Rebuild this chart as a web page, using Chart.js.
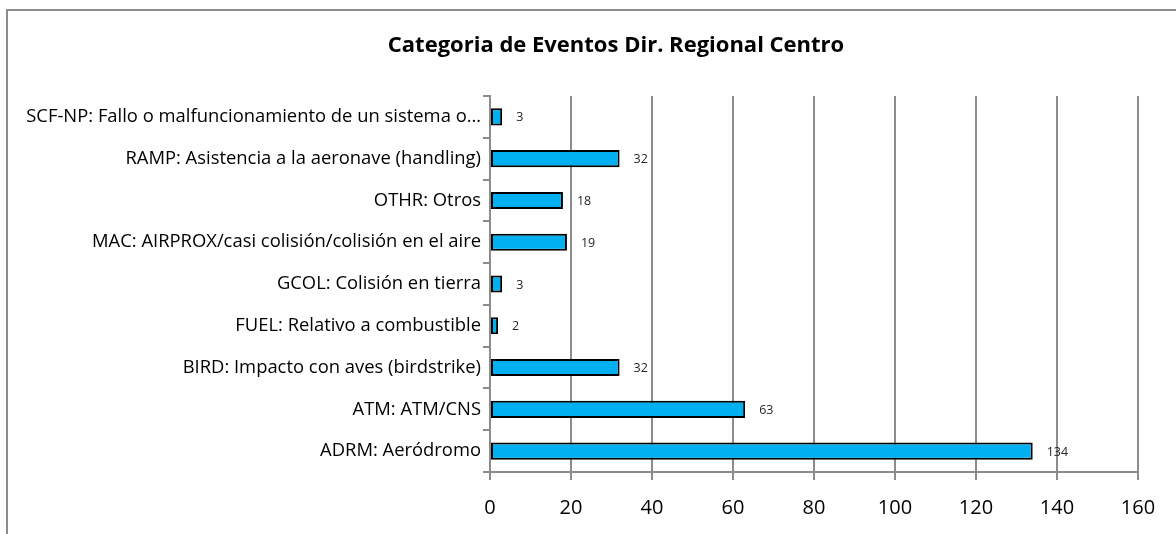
<!DOCTYPE html>
<html>
<head>
<meta charset="utf-8">
<script src="https://cdn.jsdelivr.net/npm/chart.js@4.4.1/dist/chart.umd.min.js"></script>
<style>
  html, body { margin: 0; padding: 0; background: #fff; overflow: hidden; width: 1176px; height: 534px; }
  #frame { position: absolute; left: 6px; top: 9px; width: 1216px; height: 523px;
           border-left: 2px solid #8c8c8c; border-top: 2px solid #8c8c8c; }
  canvas { display: block; }
</style>
</head>
<body>
<div id="frame"><canvas id="c" width="1216" height="523"></canvas></div>
<script>
const chartTitle = 'Categoria de Eventos Dir. Regional Centro';
const categories = [
  'SCF-NP: Fallo o malfuncionamiento de un sistema o…',
  'RAMP: Asistencia a la aeronave (handling)',
  'OTHR: Otros',
  'MAC: AIRPROX/casi colisión/colisión en el aire',
  'GCOL: Colisión en tierra',
  'FUEL: Relativo a combustible',
  'BIRD: Impacto con aves (birdstrike)',
  'ATM: ATM/CNS',
  'ADRM: Aeródromo'
];
const eventCounts = [3, 32, 18, 19, 3, 2, 32, 63, 134];
const xTicks = [0, 20, 40, 60, 80, 100, 120, 140, 160];

const FONT = '"Open Sans", "Noto Sans", sans-serif';

const titleAndLabels = {
  id: 'titleAndLabels',
  afterDraw(chart) {
    const ctx = chart.ctx;
    ctx.save();
    ctx.font = 'bold 22px ' + FONT;
    ctx.fillStyle = '#000';
    ctx.textAlign = 'center';
    ctx.textBaseline = 'middle';
    ctx.fillText(chartTitle, chart.width / 2, 35);
    ctx.restore();
  },
  afterDatasetsDraw(chart) {
    const ctx = chart.ctx;
    const meta = chart.getDatasetMeta(0);
    ctx.save();
    ctx.font = '12.5px ' + FONT;
    ctx.fillStyle = '#262626';
    ctx.textBaseline = 'middle';
    ctx.textAlign = 'left';
    meta.data.forEach((bar, i) => {
      ctx.fillText(String(chart.data.datasets[0].data[i]), bar.x + 14, bar.y + 1);
    });
    ctx.restore();
  }
};

new Chart(document.getElementById('c'), {
  type: 'bar',
  data: {
    labels: categories,
    datasets: [{
      data: eventCounts,
      backgroundColor: '#00b0f0',
      borderColor: '#000000',
      borderWidth: 2,
      borderSkipped: false,
      barPercentage: 0.41,
      categoryPercentage: 1.0
    }]
  },
  options: {
    indexAxis: 'y',
    responsive: false,
    animation: false,
    layout: { padding: { left: 0, right: 86, top: 85, bottom: 0 } },
    plugins: {
      legend: { display: false },
      tooltip: { enabled: false },
      title: { display: false }
    },
    scales: {
      x: {
        min: 0, max: 160,
        afterBuildTicks(scale) { scale.ticks = xTicks.map(v => ({ value: v })); },
        afterFit(scale) { scale.height = 62; },
        grid: { color: '#8c8c8c', lineWidth: 2, tickLength: 8, drawTicks: true },
        border: { color: '#8c8c8c', width: 2 },
        ticks: { color: '#000', padding: 16, font: { family: FONT, size: 20 } }
      },
      y: {
        afterFit(scale) { scale.width = 482; },
        grid: { offset: true, drawOnChartArea: false, color: '#8c8c8c', lineWidth: 2, tickLength: 7 },
        border: { color: '#8c8c8c', width: 2 },
        ticks: { color: '#000', padding: 2, autoSkip: false, font: { family: FONT, size: 18.4 } }
      }
    }
  },
  plugins: [titleAndLabels]
});
</script>
</body>
</html>
